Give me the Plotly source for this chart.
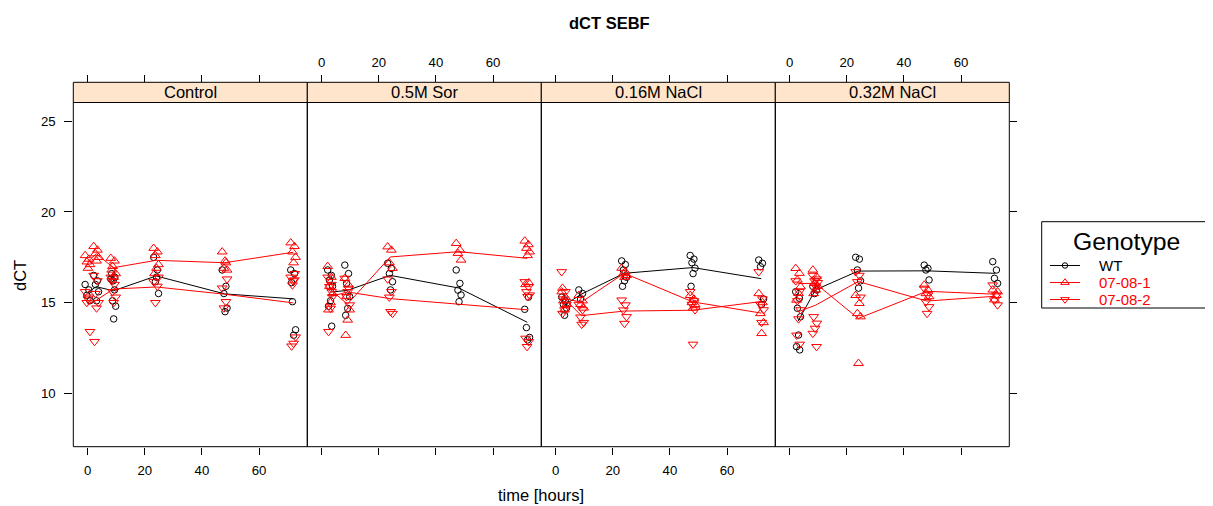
import numpy as np
import plotly.graph_objects as go

# ---------------- data ----------------
panel_names = ["Control", "0.5M Sor", "0.16M NaCl", "0.32M NaCl"]
genotypes = ["WT", "07-08-1", "07-08-2"]

times_control = [0, 3, 9, 24, 48, 72]
times_treat = [3, 9, 24, 48, 72]

control_wt = [[16.0, 15.7, 15.4, 15.1], [16.5, 16.2, 16.0, 15.6, 15.1],
              [16.3, 15.7, 15.1, 14.8, 14.1, 16.6, 16.4, 16.2],
              [17.5, 16.8, 16.15, 15.5, 16.4], [16.8, 15.9, 15.5, 14.7, 14.5],
              [16.8, 16.6, 15.05, 13.5, 13.2, 16.1]]
control_g1 = [[17.6, 17.4, 17.25, 17.1, 16.9], [18.1, 17.9, 17.7, 17.5, 17.3],
              [17.45, 17.3, 17.0, 16.6, 16.4, 16.8],
              [18.0, 17.8, 17.6, 17.1, 16.9, 16.6], [17.8, 17.2, 16.9, 16.8, 17.3],
              [18.3, 18.1, 17.8, 17.5, 17.2]]
control_g2 = [[15.6, 15.3, 15.0, 13.4, 15.2], [16.5, 16.2, 15.5, 15.0, 14.7, 12.85],
              [16.4, 16.0, 15.6, 15.3, 15.0, 16.2], [16.15, 15.9, 15.0, 16.4],
              [15.8, 15.05, 14.7, 16.3],
              [16.4, 16.25, 15.97, 13.1, 12.75, 12.6, 16.6, 16.2]]

sor_wt = [[16.8, 16.5, 16.25, 15.9, 15.1, 14.8, 13.7],
          [17.07, 16.6, 16.06, 15.33, 14.68, 14.3],
          [17.17, 16.89, 16.6, 16.15, 15.7],
          [16.8, 16.06, 15.69, 15.42, 15.05],
          [14.63, 15.3, 13.62, 13.08, 12.94]]
sor_g1 = [[17.0, 16.4, 15.9, 15.5, 15.0, 14.6],
          [16.34, 15.97, 15.33, 14.6, 14.04, 13.2],
          [18.08, 17.9, 17.2, 16.89],
          [18.27, 17.9, 17.72, 17.35],
          [18.4, 18.2, 18.0, 17.8, 17.6, 16.0, 16.1]]
sor_g2 = [[16.4, 16.0, 15.88, 15.33, 14.68, 13.4, 15.6],
          [16.34, 15.79, 15.33, 14.87, 15.6],
          [16.3, 15.6, 15.3, 14.4, 14.5],
          [],
          [16.15, 15.88, 15.6, 15.42, 15.33, 13.03, 12.84, 12.57]]

nacl16_wt = [[15.3, 15.1, 14.9, 14.7, 14.3], [15.7, 15.5, 15.2],
             [17.3, 17.1, 16.8, 16.4, 16.2, 15.9],
             [17.6, 17.4, 17.2, 16.9, 16.6, 15.9],
             [17.35, 17.17, 16.98, 15.2, 14.9]]
nacl16_g1 = [[15.6, 15.3, 15.1, 14.9, 14.6, 15.8], [15.4, 15.1, 14.9, 14.7],
             [16.9, 16.7, 16.6, 16.5, 16.4], [15.4, 15.2, 15.0, 14.9, 14.7],
             [15.5, 15.0, 14.4, 13.9, 13.3]]
nacl16_g2 = [[16.7, 15.6, 15.2, 14.9, 14.6, 14.4], [14.9, 14.6, 14.2, 13.9, 13.8],
             [15.14, 14.87, 14.59, 14.22, 13.85], [15.6, 15.1, 14.9, 14.6, 12.7],
             [16.7, 15.2, 14.9, 14.6, 13.9]]

nacl32_wt = [[15.6, 15.24, 14.69, 14.22, 13.21, 12.57, 12.39], [15.9, 15.7, 15.5],
             [17.5, 17.4, 16.8, 16.2, 15.8], [17.07, 16.89, 16.8, 16.25],
             [17.26, 16.8, 16.34, 16.06]]
nacl32_g1 = [[16.89, 16.62, 16.25, 15.88, 15.51, 15.14],
             [16.8, 16.43, 16.06, 15.9, 15.7, 15.5],
             [15.4, 14.96, 14.4, 14.22, 11.65], [15.97, 15.7, 15.5, 15.33],
             [15.7, 15.4, 15.15, 15.6]]
nacl32_g2 = [[16.2, 15.6, 15.1, 14.6, 14.1, 13.2, 12.7],
             [16.5, 16.3, 16.2, 16.1, 15.9, 14.22, 13.86, 13.58, 13.3, 12.57],
             [16.7, 16.5, 16.15, 15.3], [15.79, 15.42, 15.05, 14.77, 14.4],
             [15.97, 15.42, 15.14, 14.87]]

x_ticks = [0, 20, 40, 60]
y_ticks = [10, 15, 20, 25]

# horizontal jitter (hours) used to spread overlapping points, like jitter.x
JITTER_H = [-0.9, 0.4, -0.3, 0.8, 0.1, -0.6, 0.5, -0.1]

panels = [
    (panel_names[0], times_control, [control_wt, control_g1, control_g2]),
    (panel_names[1], times_treat, [sor_wt, sor_g1, sor_g2]),
    (panel_names[2], times_treat, [nacl16_wt, nacl16_g1, nacl16_g2]),
    (panel_names[3], times_treat, [nacl32_wt, nacl32_g1, nacl32_g2]),
]

# ---------------- style / geometry ----------------
PAGE_W, PAGE_H = 1213, 506
BODY = 8                      # default body margin of the html page
W, H = PAGE_W - BODY, PAGE_H - BODY
FONT = "Liberation Sans, Arial, Helvetica, sans-serif"
BASE = 16.5
colors = ["#000000", "#FF0000", "#FF0000"]
symbols = ["circle-open", "triangle-up-open", "triangle-down-open"]
msizes = [6.5, 8.5, 8.5]

PL, PW = 73.3, 234.0
PT, PB = 102.5, 446.7
ST = 82.3
XR = [-5.04, 76.9]
YR = [7.05, 26.04]

# legend box geometry (page pixels)
LG_X0, LG_X1, LG_Y0, LG_Y1 = 1041.7, 1211.7, 221.7, 308.0
LG_ROWS = [265.5, 282.5, 299.5]
LG_KEY = [1050, 1065, 1080]
LG_TEXT_X = 1098
LG_FONT = 15


def fx(px):
    return (px - BODY) / W


def fy(py):
    return 1 - (py - BODY) / H


fig = go.Figure()

for i, (pname, times, series) in enumerate(panels):
    xa = "x" if i == 0 else f"x{i+1}"
    ya = "y" if i == 0 else f"y{i+1}"
    for g, ser in enumerate(series):
        xs, ys = [], []
        for t, vals in zip(times, ser):
            for k, v in enumerate(vals):
                xs.append(t + JITTER_H[k % len(JITTER_H)])
                ys.append(v)
        fig.add_trace(go.Scatter(
            x=xs, y=ys, mode="markers", xaxis=xa, yaxis=ya,
            marker=dict(symbol=symbols[g], size=msizes[g], color=colors[g],
                        line=dict(width=1, color=colors[g])),
            showlegend=False, hoverinfo="x+y"))
        mt = [t for t, vals in zip(times, ser) if len(vals) > 0]
        mv = [float(np.mean(vals)) for vals in ser if len(vals) > 0]
        fig.add_trace(go.Scatter(
            x=mt, y=mv, mode="lines", xaxis=xa, yaxis=ya,
            line=dict(color=colors[g], width=1),
            showlegend=False, hoverinfo="skip"))
    # empty trace to materialise the top axis of this panel
    fig.add_trace(go.Scatter(x=[], y=[], xaxis=f"x{i+5}", yaxis=ya,
                             showlegend=False, hoverinfo="skip"))

# legend keys drawn on a dedicated (hidden) axis placed over the legend box
for g in range(3):
    fig.add_trace(go.Scatter(
        x=[LG_KEY[0], LG_KEY[2]], y=[LG_ROWS[g], LG_ROWS[g]], mode="lines",
        xaxis="x9", yaxis="y9", line=dict(color=colors[g], width=1),
        showlegend=False, hoverinfo="skip"))
    fig.add_trace(go.Scatter(
        x=[LG_KEY[1]], y=[LG_ROWS[g]], mode="markers",
        xaxis="x9", yaxis="y9",
        marker=dict(symbol=symbols[g], size=msizes[g] - 1, color=colors[g],
                    line=dict(width=1, color=colors[g])),
        showlegend=False, hoverinfo="skip"))

layout = dict(
    width=W, height=H, margin=dict(l=0, r=0, t=0, b=0),
    paper_bgcolor="white", plot_bgcolor="rgba(0,0,0,0)",
    font=dict(family=FONT, color="black"),
    showlegend=False,
)

tickfont = dict(size=13.2, family=FONT, color="black")
for i in range(4):
    x0 = PL + PW * i
    x1 = x0 + PW
    dom = [fx(x0), fx(x1)]
    key = "xaxis" if i == 0 else f"xaxis{i+1}"
    layout[key] = dict(
        domain=dom, range=XR, anchor="y" if i == 0 else f"y{i+1}",
        tickvals=x_ticks, ticks="outside", ticklen=7, tickcolor="black",
        showticklabels=(i in (0, 2)), tickfont=tickfont,
        showgrid=False, zeroline=False, showline=False, fixedrange=True,
        ticklabelstandoff=4)
    layout[f"xaxis{i+5}"] = dict(
        domain=dom, range=XR, overlaying="x" if i == 0 else f"x{i+1}",
        anchor="free", position=fy(ST), side="top",
        tickvals=x_ticks, ticks="outside", ticklen=7, tickcolor="black",
        showticklabels=(i in (1, 3)), tickfont=tickfont,
        showgrid=False, zeroline=False, showline=False, fixedrange=True,
        ticklabelstandoff=3)
    ykey = "yaxis" if i == 0 else f"yaxis{i+1}"
    yd = dict(domain=[fy(PB), fy(PT)], range=YR,
              anchor="x" if i == 0 else f"x{i+1}",
              showgrid=False, zeroline=False, showline=False, fixedrange=True,
              tickvals=y_ticks, tickfont=tickfont)
    if i == 0:
        yd.update(ticks="outside", ticklen=8, tickcolor="black",
                  showticklabels=True, side="left", ticklabelstandoff=6)
    elif i == 3:
        yd.update(ticks="outside", ticklen=7, tickcolor="black",
                  showticklabels=False, side="right")
    else:
        yd.update(ticks="", showticklabels=False)
    layout[ykey] = yd

layout["xaxis9"] = dict(domain=[fx(LG_X0), fx(LG_X1)], range=[LG_X0, LG_X1],
                        anchor="y9", visible=False, fixedrange=True)
layout["yaxis9"] = dict(domain=[fy(LG_Y1), fy(LG_Y0)], range=[LG_Y1, LG_Y0],
                        anchor="x9", visible=False, fixedrange=True)

shapes = []
annotations = []
for i, (pname, _, _) in enumerate(panels):
    x0 = PL + PW * i
    x1 = x0 + PW
    shapes.append(dict(type="rect", xref="paper", yref="paper",
                       x0=fx(x0), x1=fx(x1), y0=fy(ST), y1=fy(PT),
                       fillcolor="#FFE5CC", line=dict(color="black", width=1),
                       layer="below"))
    shapes.append(dict(type="rect", xref="paper", yref="paper",
                       x0=fx(x0), x1=fx(x1), y0=fy(PB), y1=fy(PT),
                       line=dict(color="black", width=1)))
    annotations.append(dict(text=pname, xref="paper", yref="paper",
                            x=fx((x0 + x1) / 2), y=fy((ST + PT) / 2),
                            showarrow=False, xanchor="center", yanchor="middle",
                            font=dict(size=BASE, family=FONT, color="black")))

# legend box and texts
shapes.append(dict(type="rect", xref="paper", yref="paper",
                   x0=fx(LG_X0), x1=fx(LG_X1), y0=fy(LG_Y1), y1=fy(LG_Y0),
                   line=dict(color="black", width=1), fillcolor="rgba(0,0,0,0)"))
annotations.append(dict(text="Genotype", xref="paper", yref="paper",
                        x=fx((LG_X0 + LG_X1) / 2), y=fy(241), showarrow=False,
                        xanchor="center", yanchor="middle",
                        font=dict(size=BASE * 1.5, family=FONT, color="black")))
for g in range(3):
    annotations.append(dict(text=genotypes[g], xref="paper", yref="paper",
                            x=fx(LG_TEXT_X), y=fy(LG_ROWS[g]), showarrow=False,
                            xanchor="left", yanchor="middle", borderpad=0,
                            font=dict(size=LG_FONT, family=FONT, color=colors[g])))

annotations.append(dict(text="<b>dCT SEBF</b>", xref="paper", yref="paper",
                        x=fx(609), y=fy(23), showarrow=False,
                        xanchor="center", yanchor="middle",
                        font=dict(size=BASE, family=FONT, color="black")))
annotations.append(dict(text="time [hours]", xref="paper", yref="paper",
                        x=fx(PL + 2 * PW), y=fy(495), showarrow=False,
                        xanchor="center", yanchor="middle",
                        font=dict(size=BASE, family=FONT, color="black")))
annotations.append(dict(text="dCT", xref="paper", yref="paper",
                        x=fx(20), y=fy(276), showarrow=False, textangle=-90,
                        xanchor="center", yanchor="middle",
                        font=dict(size=BASE, family=FONT, color="black")))

layout["shapes"] = shapes
layout["annotations"] = annotations
fig.update_layout(**layout)

fig.write_html("out.html")
